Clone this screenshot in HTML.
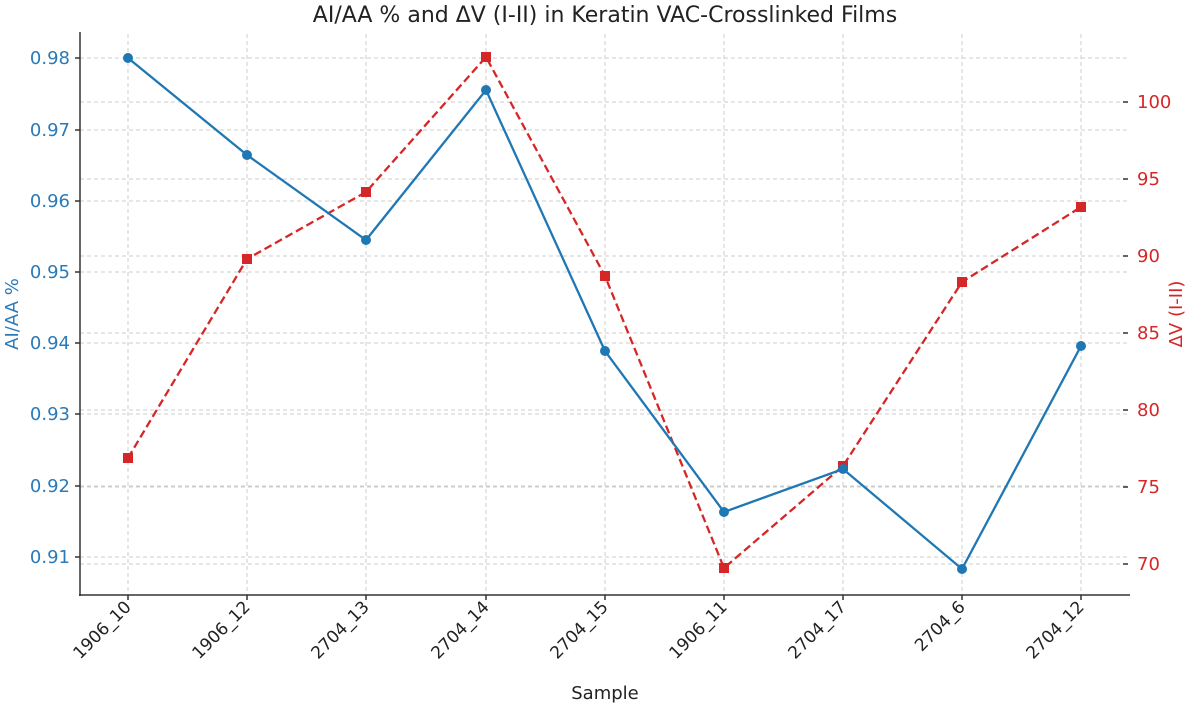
<!DOCTYPE html><html><head><meta charset="utf-8"><style>body{margin:0;background:#fff}svg{display:block;font-family:"DejaVu Sans","Liberation Sans",sans-serif}</style></head><body>
<svg width="1200" height="707" viewBox="0 0 1200 707">
<g stroke="#ccc" stroke-dasharray="4,3" stroke-width="1">
<line x1="80" x2="1128" y1="58" y2="58"/><line x1="80" x2="1128" y1="130" y2="130"/><line x1="80" x2="1128" y1="201" y2="201"/><line x1="80" x2="1128" y1="272" y2="272"/><line x1="80" x2="1128" y1="343" y2="343"/><line x1="80" x2="1128" y1="414" y2="414"/><line x1="80" x2="1128" y1="486" y2="486"/><line x1="80" x2="1128" y1="557" y2="557"/>
<line x1="80" x2="1128" y1="102" y2="102"/><line x1="80" x2="1128" y1="179" y2="179"/><line x1="80" x2="1128" y1="256" y2="256"/><line x1="80" x2="1128" y1="333" y2="333"/><line x1="80" x2="1128" y1="410" y2="410"/><line x1="80" x2="1128" y1="487" y2="487"/><line x1="80" x2="1128" y1="564" y2="564"/>
<g><line x1="128" x2="128" y1="34" y2="595"/><line x1="247" x2="247" y1="34" y2="595"/><line x1="366" x2="366" y1="34" y2="595"/><line x1="486" x2="486" y1="34" y2="595"/><line x1="605" x2="605" y1="34" y2="595"/><line x1="724" x2="724" y1="34" y2="595"/><line x1="843" x2="843" y1="34" y2="595"/><line x1="962" x2="962" y1="34" y2="595"/><line x1="1081" x2="1081" y1="34" y2="595"/></g>
</g>
<g stroke="#333" stroke-width="1.5"><line x1="80" y1="32" x2="80" y2="596"/><line x1="79" y1="595" x2="1130" y2="595"/>
<path d="M128 595v5M247 595v5M366 595v5M486 595v5M605 595v5M724 595v5M843 595v5M962 595v5M1081 595v5"/>
<path d="M75 58h5M75 130h5M75 201h5M75 272h5M75 343h5M75 414h5M75 486h5M75 557h5"/>
<path d="M1123 102h5M1123 179h5M1123 256h5M1123 333h5M1123 410h5M1123 487h5M1123 564h5"/></g>
<g fill="#2a7ab9" font-size="18" text-anchor="end"><text x="70" y="64">0.98</text><text x="70" y="136">0.97</text><text x="70" y="207">0.96</text><text x="70" y="278">0.95</text><text x="70" y="349">0.94</text><text x="70" y="420">0.93</text><text x="70" y="492">0.92</text><text x="70" y="563">0.91</text></g>
<g fill="#d62728" font-size="18"><text x="1137" y="108">100</text><text x="1137" y="185">95</text><text x="1137" y="262">90</text><text x="1137" y="339">85</text><text x="1137" y="416">80</text><text x="1137" y="493">75</text><text x="1137" y="570">70</text></g>
<polyline fill="none" stroke="#d62728" stroke-width="2.3" stroke-dasharray="8,4" points="128,458 247,259 366,192 486,57 605,276 724,568 843,466 962,282 1081,207"/>
<g fill="#d62728"><rect x="123" y="453" width="10" height="10"/><rect x="242" y="254" width="10" height="10"/><rect x="361" y="187" width="10" height="10"/><rect x="481" y="52" width="10" height="10"/><rect x="600" y="271" width="10" height="10"/><rect x="719" y="563" width="10" height="10"/><rect x="838" y="461" width="10" height="10"/><rect x="957" y="277" width="10" height="10"/><rect x="1076" y="202" width="10" height="10"/></g>
<polyline fill="none" stroke="#1f77b4" stroke-width="2.3" points="128,58 247,155 366,240 486,90 605,351 724,512 843,469 962,569 1081,346"/>
<g fill="#1f77b4"><circle cx="128" cy="58" r="5"/><circle cx="247" cy="155" r="5"/><circle cx="366" cy="240" r="5"/><circle cx="486" cy="90" r="5"/><circle cx="605" cy="351" r="5"/><circle cx="724" cy="512" r="5"/><circle cx="843" cy="469" r="5"/><circle cx="962" cy="569" r="5"/><circle cx="1081" cy="346" r="5"/></g>
<g fill="#222" font-size="17" text-anchor="end">
<text transform="translate(132,608) rotate(-45)">1906_10</text><text transform="translate(251,608) rotate(-45)">1906_12</text><text transform="translate(370,608) rotate(-45)">2704_13</text><text transform="translate(490,608) rotate(-45)">2704_14</text><text transform="translate(609,608) rotate(-45)">2704_15</text><text transform="translate(728,608) rotate(-45)">1906_11</text><text transform="translate(847,608) rotate(-45)">2704_17</text><text transform="translate(966,608) rotate(-45)">2704_6</text><text transform="translate(1085,608) rotate(-45)">2704_12</text></g>
<text x="605" y="699" font-size="18" fill="#222" text-anchor="middle">Sample</text>
<text x="605" y="22" font-size="22" fill="#222" text-anchor="middle">AI/AA % and ΔV (I-II) in Keratin VAC-Crosslinked Films</text>
<text transform="translate(18,314) rotate(-90)" font-size="18" fill="#2a7ab9" text-anchor="middle">AI/AA %</text>
<text transform="translate(1182,314) rotate(-90)" font-size="18" fill="#d62728" text-anchor="middle">ΔV (I-II)</text>
</svg></body></html>
